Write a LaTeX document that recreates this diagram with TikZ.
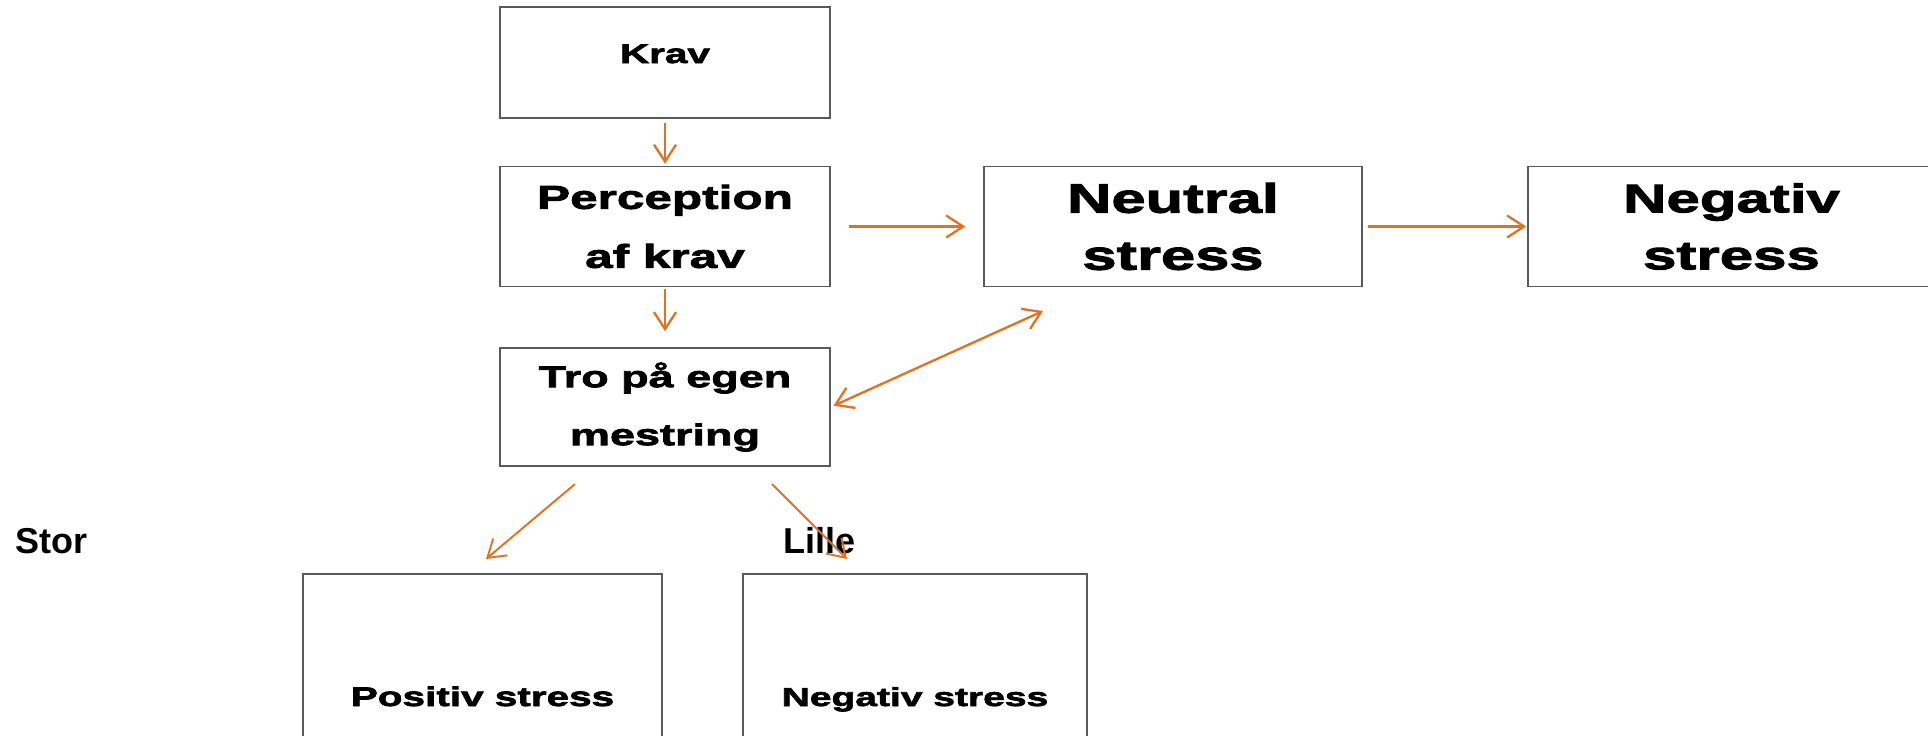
\documentclass[tikz,border=0pt]{standalone}
\usepackage{fontspec}
\setmainfont{Liberation Sans}
\newfontfamily\boksfont[FakeStretch=1.5,FakeBold=2.5]{Liberation Sans Bold}
\usetikzlibrary{arrows.meta}
\definecolor{pilorange}{RGB}{228,112,32}
\definecolor{kantgraa}{RGB}{90,90,90}
\tikzset{
  boks/.style={rectangle, draw=kantgraa, line width=1.5pt, inner sep=0pt, align=center},
  pil/.style={draw=pilorange, line width=2.3pt, >={Straight Barb[length=17pt,width=22pt]}, ->},
  etiket/.style={font=\fontsize{36}{43}\selectfont\bfseries, anchor=base west, inner sep=0pt},
}

\begin{document}
\begin{tikzpicture}[x=1pt, y=-1pt]
      \useasboundingbox (0,0) rectangle (1928,736);

      \node[boks, minimum width=330pt, minimum height=111pt, font=\boksfont\fontsize{27}{40}\selectfont, text height=19pt, text depth=18pt] (krav) at (665,62.5) {Krav};
      \node[boks, minimum width=330pt, minimum height=120pt, font=\boksfont\fontsize{33}{59}\selectfont] (perc) at (665,226.5) {Perception\\af krav};
      \node[boks, minimum width=330pt, minimum height=118pt, font=\boksfont\fontsize{30}{58}\selectfont] (tro) at (665,407) {Tro på egen\\mestring};
      \node[boks, minimum width=378pt, minimum height=120pt, font=\boksfont\fontsize{41}{57}\selectfont] (neutral) at (1173,226.5) {Neutral\\stress};
      \node[boks, minimum width=407pt, minimum height=120pt, font=\boksfont\fontsize{40}{57}\selectfont] (negativ) at (1731.5,226.5) {Negativ\\stress};
      \node[boks, minimum width=359pt, minimum height=244pt, font=\boksfont\fontsize{27}{32}\selectfont, text height=20pt, text depth=0pt] (positiv) at (482.5,696) {Positiv stress};
      \node[boks, minimum width=344pt, minimum height=244pt, font=\boksfont\fontsize{26}{32}\selectfont, text height=20pt, text depth=0pt] (negstress) at (915,696) {Negativ stress};

      \node[etiket] (stor) at (15,553) {Stor};
      \node[etiket] (lille) at (783,553) {Lille};

      \coordinate (tropil) at (1043,311);
      \coordinate (trov) at (575,484);
      \coordinate (troh) at (772,484);
      \coordinate (posspids) at (486,559);
      \coordinate (negspids) at (847,559);

      \draw[pil, shorten <=4pt, shorten >=2pt] (krav) -- (perc);
      \draw[pil, shorten <=2pt, shorten >=16pt] (perc) -- (tro);
      \draw[pil, shorten <=18pt, shorten >=18pt] (perc) -- (neutral);
      \draw[pil, shorten <=5pt, shorten >=1pt] (neutral) -- (negativ);
      \draw[pil, <->, shorten <=3pt] (tro.east) -- (tropil);
      \draw[pil, line width=1.9pt] (trov) -- (posspids);
      \draw[pil, line width=1.9pt] (troh) -- (negspids);
    \end{tikzpicture}
\end{document}
